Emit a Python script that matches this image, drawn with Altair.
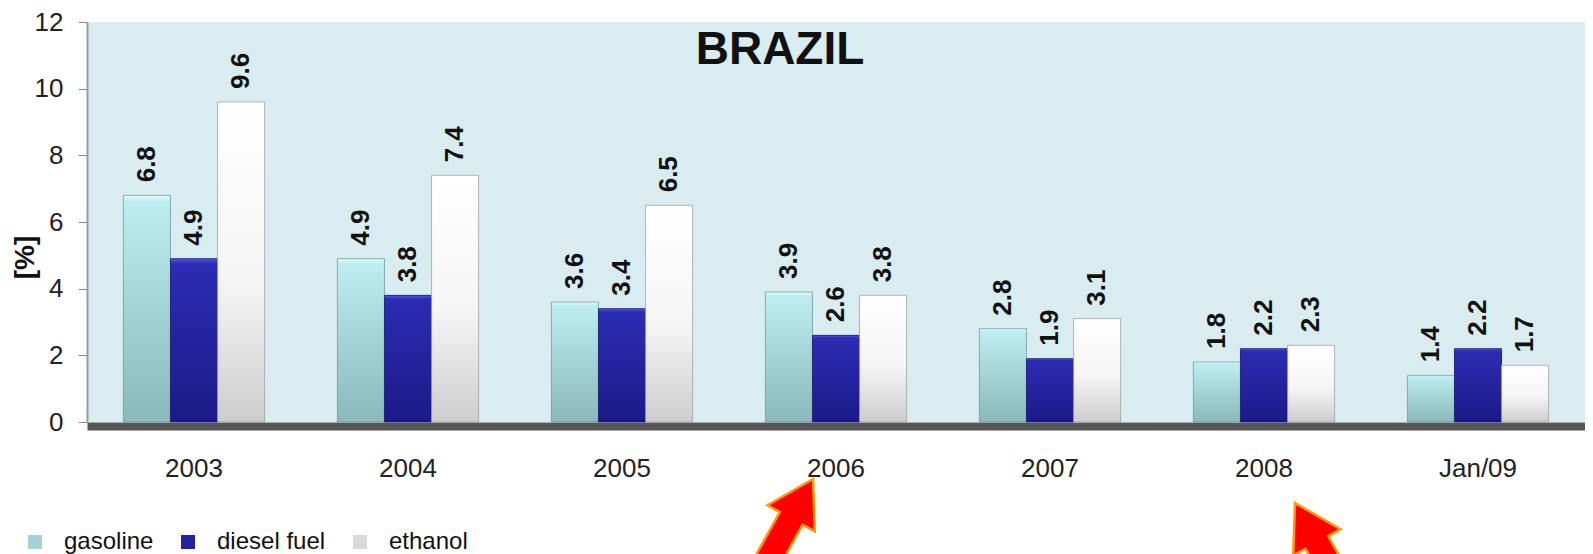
import altair as alt
import pandas as pd

categories = ["2003", "2004", "2005", "2006", "2007", "2008", "Jan/09"]
series_names = ["gasoline", "diesel fuel", "ethanol"]
gasoline = [6.8, 4.9, 3.6, 3.9, 2.8, 1.8, 1.4]
diesel = [4.9, 3.8, 3.4, 2.6, 1.9, 2.2, 2.2]
ethanol = [9.6, 7.4, 6.5, 3.8, 3.1, 2.3, 1.7]
y_ticks = [0, 2, 4, 6, 8, 10, 12]
chart_title = "BRAZIL"
y_title = "[%]"
arrow_categories = ["2006", "2008"]
arrow_tip_values = [-1.71, -2.43]

rows = []
for s, vals in zip(series_names, [gasoline, diesel, ethanol]):
    for c, v in zip(categories, vals):
        rows.append({"year": c, "series": s, "value": v})
df = pd.DataFrame(rows)

FONT = "Liberation Sans"
flat_colors = ["#a3d3d6", "#2323a0", "#d9d9d9"]

x_enc = alt.X(
    "year:N", sort=categories,
    scale=alt.Scale(paddingInner=0.34, paddingOuter=0.17),
    axis=alt.Axis(title=None, labelAngle=0, labelFont=FONT, labelFontSize=26,
                  labelColor="#222222", ticks=False, domainColor="#575757",
                  domainWidth=8, offset=4, labelPadding=29),
)
y_enc = alt.Y(
    "value:Q",
    scale=alt.Scale(domain=[0, 12], nice=False, zero=True),
    axis=alt.Axis(values=y_ticks, title=y_title, titleFont=FONT, titleFontSize=28,
                  titleFontWeight="bold", titleAngle=270, titleX=-62, titleY=235,
                  titleAlign="center", titleBaseline="middle", titleColor="#111111",
                  labelFont=FONT, labelFontSize=26, labelPadding=15, labelColor="#222222",
                  tickSize=9, tickColor="#888888", domainColor="#9a9a9a",
                  domainWidth=2, grid=False),
)
xo_enc = alt.XOffset("series:N", sort=series_names,
                     scale=alt.Scale(domain=series_names, paddingInner=0, paddingOuter=0))

base = alt.Chart(df).mark_bar().encode(
    x=x_enc, y=y_enc, xOffset=xo_enc,
    color=alt.Color("series:N", sort=series_names,
                    scale=alt.Scale(domain=series_names, range=flat_colors),
                    legend=alt.Legend(title=None, orient="none", legendX=-64, legendY=508,
                                      direction="horizontal", symbolType="square",
                                      symbolSize=196, symbolStrokeWidth=0, symbolOpacity=1,
                                      labelFont=FONT, labelFontSize=24, labelOffset=17,
                                      columnPadding=22, labelColor="#111111", padding=0)),
)

gradients = {
    "gasoline": [(0, "#e6fbfc"), (0.03, "#bdedf0"), (1, "#8ab8bb")],
    "diesel fuel": [(0, "#5656e6"), (0.03, "#2c2cb4"), (1, "#1b1a88")],
    "ethanol": [(0, "#ffffff"), (0.55, "#f5f5f5"), (1, "#cdcdcd")],
}
strokes = {"gasoline": "#6f9495", "diesel fuel": "#15146a", "ethanol": "#9a9a9a"}

grad_layers = []
for s in series_names:
    g = alt.LinearGradient(
        gradient="linear",
        stops=[alt.GradientStop(offset=o, color=c) for o, c in gradients[s]],
        x1=0, x2=0, y1=0, y2=1,
    )
    grad_layers.append(
        alt.Chart(df).transform_filter(alt.datum.series == s)
        .mark_bar(color=g, stroke=strokes[s], strokeWidth=1, strokeOpacity=0.7)
        .encode(x=x_enc, y=y_enc, xOffset=xo_enc)
    )

labels = alt.Chart(df).mark_text(
    angle=270, align="left", baseline="middle", dx=13,
    font=FONT, fontSize=26, fontWeight="bold", color="#111111",
).encode(x=x_enc, y=y_enc, xOffset=xo_enc, text=alt.Text("value:Q", format=".1f"))

title = alt.Chart(pd.DataFrame({"t": [chart_title]})).mark_text(
    font=FONT, fontSize=46, fontWeight="bold", align="center", baseline="alphabetic",
    color="#111111",
).encode(x=alt.value(693), y=alt.value(42), text="t:N")

ARROW = "M0,0 L0.54,0.9 L0.26,0.9 L0.26,2.9 L-0.26,2.9 L-0.26,0.9 L-0.54,0.9 Z"
arrow_layers = []
for cat, tip, ang, off in zip(arrow_categories, arrow_tip_values, [29, 331], [-23, 31]):
    arrow_layers.append(
        alt.Chart(pd.DataFrame({"year": [cat], "value": [tip]})).mark_point(
            shape=ARROW, size=10000, angle=ang, filled=True, fill="#ff0000",
            stroke="#ff9900", strokeWidth=2.5, opacity=1, xOffset=off,
        ).encode(x=x_enc, y=y_enc)
    )

chart = alt.layer(base, *grad_layers, labels, title, *arrow_layers).properties(
    width=1498, height=400,
    autosize=alt.AutoSizeParams(type="none"),
    padding={"left": 79, "top": 14, "right": 0, "bottom": 132},
).configure(font=FONT).configure_view(fill="#d9edf0", strokeWidth=0)

chart.save("out.html", embed_options={"renderer": "svg", "actions": False})
